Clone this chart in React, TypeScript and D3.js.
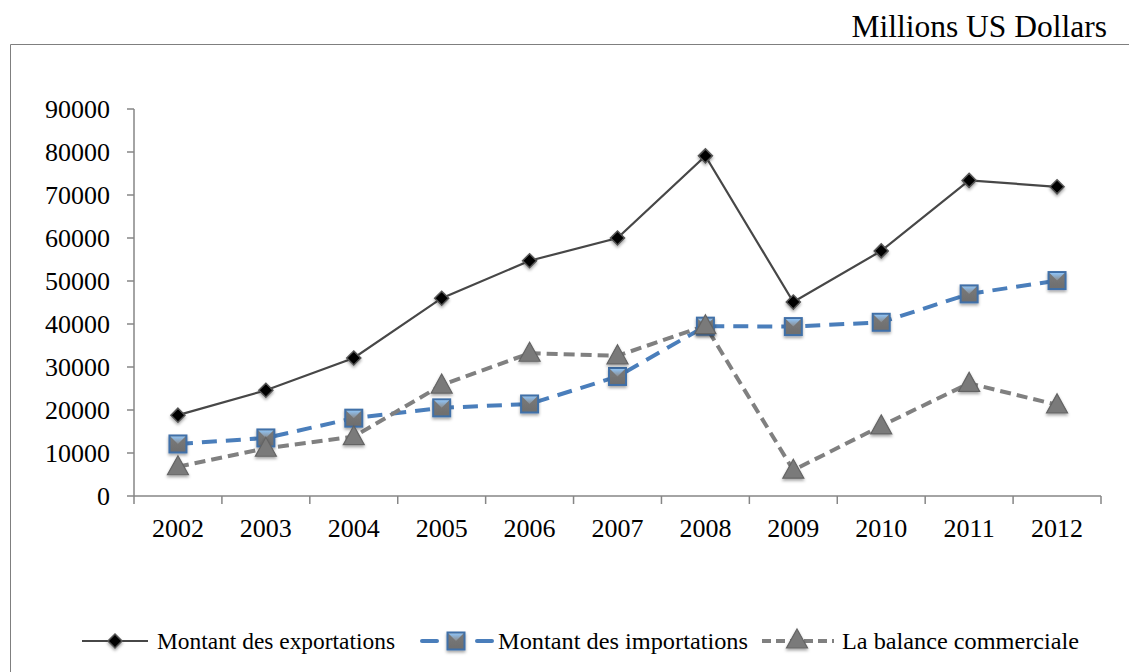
import React from "react";
import * as d3 from "d3";

const years = ["2002", "2003", "2004", "2005", "2006", "2007", "2008", "2009", "2010", "2011", "2012"];
const exportsVals = [18800, 24600, 32100, 46000, 54700, 60000, 79100, 45100, 57000, 73400, 71900];
const importsVals = [12100, 13500, 18100, 20500, 21400, 27800, 39500, 39400, 40400, 47000, 50100];
const balanceVals = [6800, 11100, 13800, 25800, 33200, 32600, 39600, 6000, 16300, 26200, 21200];
const yTicks = [0, 10000, 20000, 30000, 40000, 50000, 60000, 70000, 80000, 90000];
const legendLabels = ["Montant des exportations", "Montant des importations", "La balance commerciale"];
const unitLabel = "Millions US Dollars";

const W = 1129;
const H = 672;
const FONT = "'Liberation Serif', 'Times New Roman', serif";

export default function App() {
  const x = d3.scaleBand<string>().domain(years).range([134, 1101]).padding(0);
  const y = d3.scaleLinear().domain([0, 90000]).range([496, 109]);
  const cx = (d: string) => (x(d) as number) + x.bandwidth() / 2;
  const line = d3
    .line<number>()
    .x((_, i) => cx(years[i]))
    .y((v) => y(v));

  const boundaries = [...years.map((d) => x(d) as number), 1101];

  const diamond = (px: number, py: number, key: string | number) => (
    <path
      key={key}
      d={`M${px},${py - 7}L${px + 7},${py}L${px},${py + 7}L${px - 7},${py}Z`}
      fill="#000"
      stroke="#555"
      strokeWidth={1.5}
      filter="url(#shadow)"
    />
  );
  const square = (px: number, py: number, key: string | number) => (
    <g key={key} filter="url(#shadow)">
      <rect x={px - 8.5} y={py - 8.5} width={17} height={17} fill="url(#sqGrad)" stroke="#3f6fa8" strokeWidth={2} />
      <path d={`M${px - 7.5},${py - 7.5}L${px + 7.5},${py - 7.5}L${px},${py}Z`} fill="url(#sqTop)" />
    </g>
  );
  const triangle = (px: number, py: number, key: string | number) => (
    <path
      key={key}
      d={`M${px},${py - 11}L${px + 10.5},${py + 8}L${px - 10.5},${py + 8}Z`}
      fill="#7a7a7a"
      stroke="#646464"
      strokeWidth={1.2}
      filter="url(#shadow)"
    />
  );

  const legY = 641;

  return (
    <svg
      width={W}
      height={H}
      style={{ position: "absolute", left: 0, top: 0, background: "#fff" }}
      fontFamily={FONT}
    >
      <defs>
        <filter id="shadow" x="-50%" y="-50%" width="200%" height="200%">
          <feDropShadow dx="0" dy="2" stdDeviation="1.5" floodColor="#000" floodOpacity="0.35" />
        </filter>
        <linearGradient id="sqGrad" x1="0" y1="0" x2="0" y2="1">
          <stop offset="0" stopColor="#7a7a7a" />
          <stop offset="1" stopColor="#6e6e6e" />
        </linearGradient>
        <linearGradient id="sqTop" x1="0" y1="0" x2="0" y2="1">
          <stop offset="0" stopColor="#8fc3f5" />
          <stop offset="1" stopColor="#8a8a8a" />
        </linearGradient>
      </defs>
      <rect x={0} y={0} width={W} height={H} fill="#fff" />
      <text x={1107} y={37} textAnchor="end" fontSize={31.5} fill="#000">
        {unitLabel}
      </text>
      {/* frame */}
      <path d={`M10.5,${H + 5}L10.5,44.5L${W + 5},44.5`} fill="none" stroke="#7f7f7f" strokeWidth={1} />

      {/* axes */}
      <line x1={134} y1={109} x2={134} y2={496} stroke="#868686" strokeWidth={1.5} />
      <line x1={134} y1={496} x2={1101} y2={496} stroke="#868686" strokeWidth={1.5} />
      {yTicks.map((t) => (
        <g key={t}>
          <line x1={127} x2={134} y1={y(t)} y2={y(t)} stroke="#868686" strokeWidth={1.5} />
          <text x={110} y={y(t) + 8.5} textAnchor="end" fontSize={26} fill="#000">
            {t}
          </text>
        </g>
      ))}
      {boundaries.map((b, i) => (
        <line key={i} x1={b} x2={b} y1={496} y2={504} stroke="#868686" strokeWidth={1.5} />
      ))}
      {years.map((d) => (
        <text key={d} x={cx(d)} y={537} textAnchor="middle" fontSize={26} fill="#000">
          {d}
        </text>
      ))}

      {/* series */}
      <path d={line(exportsVals) || ""} fill="none" stroke="#474747" strokeWidth={2.2} />
      <path d={line(importsVals) || ""} fill="none" stroke="#4a7ebb" strokeWidth={4} strokeDasharray="15 9" />
      <path d={line(balanceVals) || ""} fill="none" stroke="#808080" strokeWidth={4} strokeDasharray="11 6" />
      {exportsVals.map((v, i) => diamond(cx(years[i]), y(v), "e" + i))}
      {importsVals.map((v, i) => square(cx(years[i]), y(v), "i" + i))}
      {balanceVals.map((v, i) => triangle(cx(years[i]), y(v), "b" + i))}

      {/* legend */}
      <line x1={82} x2={148} y1={legY} y2={legY} stroke="#474747" strokeWidth={2.2} />
      {diamond(115, legY, "ld")}
      <text x={157} y={legY + 8} fontSize={23.5} fill="#000" textLength={238} lengthAdjust="spacingAndGlyphs">
        {legendLabels[0]}
      </text>
      <line x1={422} x2={437} y1={legY} y2={legY} stroke="#4a7ebb" strokeWidth={4} strokeLinecap="round" />
      <line x1={477} x2={492} y1={legY} y2={legY} stroke="#4a7ebb" strokeWidth={4} strokeLinecap="round" />
      {square(456, legY, "ls")}
      <text x={498} y={legY + 8} fontSize={23.5} fill="#000" textLength={250} lengthAdjust="spacingAndGlyphs">
        {legendLabels[1]}
      </text>
      <path d={`M762,${legY}L834,${legY}`} stroke="#808080" strokeWidth={4} strokeDasharray="9 5" />
      {triangle(797, legY - 1, "lt")}
      <text x={842} y={legY + 8} fontSize={23.5} fill="#000" textLength={237} lengthAdjust="spacingAndGlyphs">
        {legendLabels[2]}
      </text>
    </svg>
  );
}
